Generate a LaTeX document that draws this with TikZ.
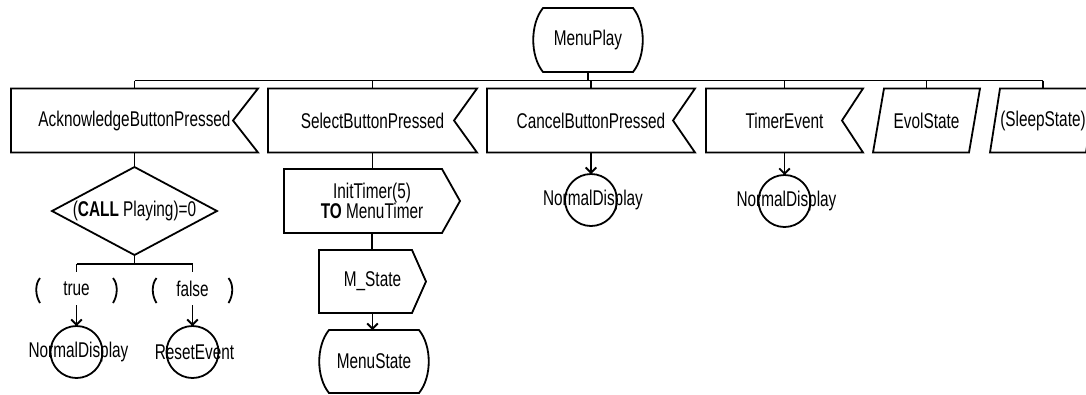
\documentclass[tikz,border=0pt]{standalone}
\usepackage{fontspec}
\setmainfont{Liberation Sans}[FakeStretch=0.72]
\usetikzlibrary{calc,arrows.meta}

% SDL symbol outlines, drawn on the anchors of a sized text node
\newcommand\sdlInput[2]{% input signal: notch of depth #2 on the east side
  \draw[ln] (#1.north west) -- (#1.north east) -- ($(#1.east)+(-#2,0)$)
    -- (#1.south east) -- (#1.south west) -- cycle;}
\newcommand\sdlOutput[2]{% output signal: point of depth #2 on the east side
  \draw[ln] (#1.north west) -- ($(#1.north east)+(-#2,0)$) -- (#1.east)
    -- ($(#1.south east)+(-#2,0)$) -- (#1.south west) -- cycle;}
\newcommand\sdlState[1]{% state: flat top and bottom, bulging sides
  \draw[ln] ($(#1.north west)+(10,0)$) -- ($(#1.north east)+(-10,0)$)
    .. controls ($(#1.north east)+(3,16)$) and ($(#1.south east)+(3,-16)$) .. ($(#1.south east)+(-10,0)$)
    -- ($(#1.south west)+(10,0)$)
    .. controls ($(#1.south west)+(-3,-16)$) and ($(#1.north west)+(-3,16)$) .. cycle;}
\newcommand\sdlPara[2]{% parallelogram with slant #2
  \draw[ln] ($(#1.north west)+(#2,0)$) -- (#1.north east)
    -- ($(#1.south east)+(-#2,0)$) -- (#1.south west) -- cycle;}
\newcommand\sdlDecision[1]{%
  \draw[ln] (#1.north) -- (#1.east) -- (#1.south) -- (#1.west) -- cycle;}
\newcommand\sdlAnswer[1]{% parentheses round a decision answer
  \draw[ln] ($(#1.north west)+(2.5,6)$) .. controls ($(#1.north west)+(-2.5,12)$)
    and ($(#1.south west)+(-2.5,-10)$) .. ($(#1.south west)+(2.5,-2)$);
  \draw[ln] ($(#1.north east)+(-2.5,6)$) .. controls ($(#1.north east)+(2.5,12)$)
    and ($(#1.south east)+(2.5,-10)$) .. ($(#1.south east)+(-2.5,-2)$);}

\begin{document}
\begin{tikzpicture}[x=0.75pt,y=-0.75pt,
  font=\fontsize{16pt}{15pt}\selectfont,
  ln/.style={line width=1.35pt, line join=miter},
  arr/.style={-{Straight Barb[length=4pt,width=8pt]}},
  sym/.style n args={2}{inner sep=0pt, outer sep=0pt, align=center,
    minimum width=#1*0.75pt, minimum height=#2*0.75pt},
  conn/.style={circle, draw, line width=1.35pt, inner sep=0pt, outer sep=0pt,
    minimum size=52*0.75pt},
  ctext/.style={xshift=1.5pt, inner sep=0pt}]

\useasboundingbox (0,0) rectangle (1086,394);
\fill[white] (0,0) rectangle (1086,394);
\clip (0,0) rectangle (1086,394);

% start state and the input signals hanging from it
\node[sym={110}{64}] (menu) at (588,40) {MenuPlay};
\node[sym={247}{64}] (ack) at (134.5,120.5) {AcknowledgeButtonPressed};
\node[sym={209}{64}] (sel) at (372.5,120.5) {SelectButtonPressed};
\node[sym={208}{64}] (can) at (591,120.5) {CancelButtonPressed};
\node[sym={157}{64}] (tim) at (784.5,120.5) {TimerEvent};
\node[sym={107}{64}] (evo) at (926.5,120.5) {EvolState};
\node[sym={106}{64}] (slp) at (1043,120.5) {(SleepState)};
\sdlState{menu}
\sdlInput{ack}{25}
\sdlInput{sel}{23}
\sdlInput{can}{22}
\sdlInput{tim}{21}
\sdlPara{evo}{11}
\sdlPara{slp}{10}

\coordinate (busL) at (134.5,80.5);
\coordinate (busR) at (1043,80.5);
\draw[ln] (menu.south) -- (menu.south |- busL);
\draw[ln] (busL) -- (busR);
\foreach \n in {ack,sel,can,tim,evo,slp}
  \draw[ln] (\n.north |- busL) -- (\n.north);

% acknowledge branch: decision with two answers
\node[sym={165}{88}] (dec) at (134.5,211) {(\textbf{CALL} Playing)=0};
\sdlDecision{dec}
\draw[ln] (ack.south) -- (dec.north);
\node[sym={78}{33}] (atrue) at (76.5,288.5) {true};
\node[sym={77}{33}] (afalse) at (192.5,288.5) {false};
\sdlAnswer{atrue}
\sdlAnswer{afalse}
\coordinate (brL) at (76.5,264);
\coordinate (brR) at (192.5,264);
\draw[ln] (dec.south) -- (dec.south |- brL);
\draw[ln] (brL) -- (brR);
\draw[ln] (brL) -- (atrue.north);
\draw[ln] (brR) -- (afalse.north);
\node[conn, label={[ctext]center:NormalDisplay}] (c1) at (76.5,352) {};
\node[conn, label={[ctext]center:ResetEvent}] (c2) at (192.5,352) {};
\draw[ln,arr] (atrue.south) -- (c1);
\draw[ln,arr] (afalse.south) -- (c2);

% select branch: timer, output, next state
\node[sym={176}{64}] (init) at (372,201) {InitTimer(5)\\\textbf{TO} MenuTimer};
\node[sym={107}{63}] (mst) at (372.5,281.5) {M\_State};
\node[sym={110}{63}] (mstate) at (374,361.5) {MenuState};
\sdlOutput{init}{18}
\sdlOutput{mst}{14}
\sdlState{mstate}
\draw[ln] (sel.south) -- (sel.south |- init.north);
\draw[ln] (init.south) -- (init.south |- mst.north);
\draw[ln,arr] (mst.south) -- (mst.south |- mstate.north);

% cancel and timer branches
\node[conn, label={[ctext]center:NormalDisplay}] (c3) at (591,200) {};
\node[conn, label={[ctext]center:NormalDisplay}] (c4) at (784.5,201) {};
\draw[ln,arr] (can.south) -- (c3);
\draw[ln,arr] (tim.south) -- (c4);
\end{tikzpicture}
\end{document}
